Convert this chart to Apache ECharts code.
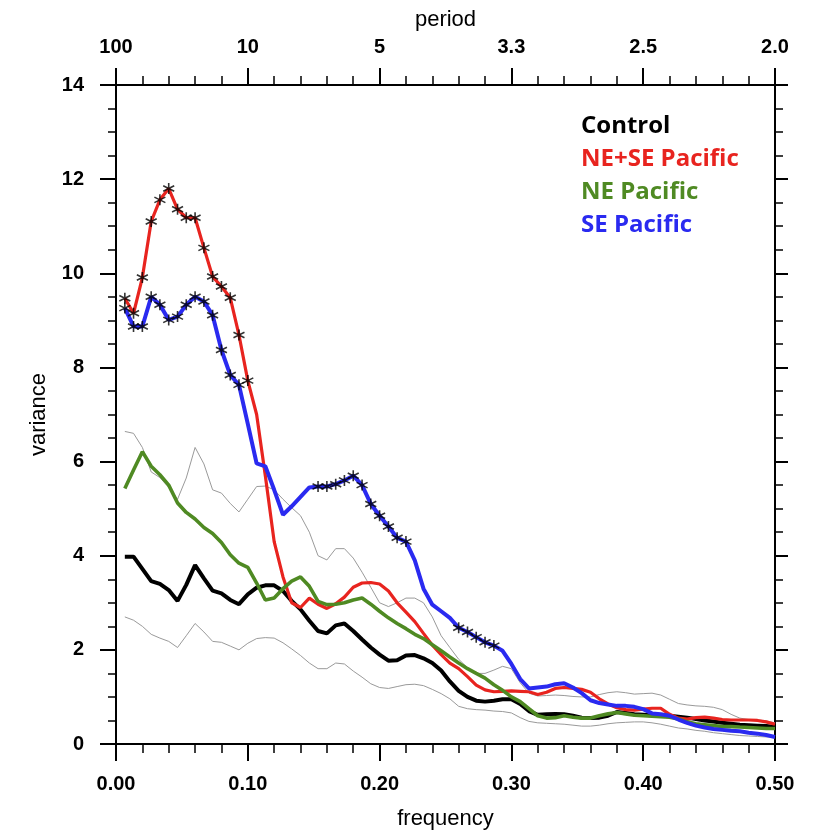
<!DOCTYPE html>
<html>
<head>
<meta charset="utf-8">
<title>variance spectra</title>
<script src="https://cdn.jsdelivr.net/npm/echarts@6/dist/echarts.min.js"></script>
<style>
html, body { margin: 0; padding: 0; background: #fff; }
#chart { width: 828px; height: 840px; }
</style>
</head>
<body>
<div id="chart"></div>
<script>
// frequency grid (cycles/yr)
const freq = [0.0067,0.0133,0.0200,0.0267,0.0333,0.0400,0.0467,0.0533,0.0600,0.0667,
  0.0733,0.0800,0.0867,0.0933,0.1000,0.1067,0.1133,0.1200,0.1267,0.1333,
  0.1400,0.1467,0.1533,0.1600,0.1667,0.1733,0.1800,0.1867,0.1933,0.2000,
  0.2067,0.2133,0.2200,0.2267,0.2333,0.2400,0.2467,0.2533,0.2600,0.2667,
  0.2733,0.2800,0.2867,0.2933,0.3000,0.3067,0.3133,0.3200,0.3267,0.3333,
  0.3400,0.3467,0.3533,0.3600,0.3667,0.3733,0.3800,0.3867,0.3933,0.4000,
  0.4067,0.4133,0.4200,0.4267,0.4333,0.4400,0.4467,0.4533,0.4600,0.4667,
  0.4733,0.4800,0.4867,0.4933,0.5000];

const control = [3.98,3.98,3.72,3.46,3.40,3.27,3.04,3.38,3.80,3.52,
  3.26,3.20,3.06,2.97,3.18,3.32,3.37,3.37,3.25,3.04,
  2.86,2.62,2.40,2.35,2.52,2.56,2.40,2.22,2.05,1.90,
  1.77,1.78,1.88,1.89,1.82,1.72,1.56,1.33,1.13,1.00,
  0.92,0.90,0.92,0.95,0.95,0.85,0.70,0.62,0.63,0.64,
  0.63,0.60,0.56,0.55,0.56,0.60,0.68,0.66,0.63,0.62,
  0.61,0.61,0.60,0.58,0.56,0.53,0.50,0.48,0.45,0.43,
  0.41,0.40,0.39,0.38,0.36];

const neSe = [9.47,9.15,9.91,11.10,11.56,11.80,11.36,11.18,11.18,10.54,
  9.93,9.72,9.48,8.69,7.72,7.00,5.70,4.30,3.55,3.00,
  2.90,3.10,2.97,2.88,2.98,3.12,3.33,3.42,3.43,3.40,
  3.25,3.00,2.80,2.60,2.35,2.10,1.90,1.72,1.60,1.43,
  1.25,1.15,1.11,1.12,1.13,1.12,1.11,1.05,1.10,1.18,
  1.20,1.18,1.16,1.10,0.96,0.85,0.77,0.73,0.72,0.74,
  0.76,0.76,0.63,0.55,0.53,0.56,0.57,0.55,0.52,0.51,
  0.51,0.51,0.50,0.47,0.42];

const ne = [5.43,5.82,6.21,5.90,5.72,5.50,5.12,4.92,4.78,4.60,
  4.47,4.28,4.02,3.84,3.75,3.42,3.06,3.10,3.30,3.46,
  3.55,3.35,3.03,2.96,2.97,3.00,3.06,3.10,2.97,2.82,
  2.68,2.56,2.45,2.33,2.24,2.11,1.98,1.85,1.72,1.60,
  1.50,1.40,1.26,1.14,1.00,0.90,0.75,0.60,0.55,0.56,
  0.60,0.57,0.55,0.55,0.60,0.64,0.67,0.64,0.61,0.60,
  0.59,0.58,0.57,0.53,0.47,0.43,0.41,0.39,0.37,0.37,
  0.36,0.35,0.34,0.33,0.33];

const se = [9.26,8.87,8.87,9.50,9.33,9.01,9.08,9.33,9.50,9.40,
  9.11,8.37,7.84,7.63,6.80,5.96,5.90,5.40,4.87,5.05,
  5.25,5.45,5.47,5.47,5.52,5.60,5.70,5.50,5.10,4.85,
  4.62,4.38,4.30,3.90,3.30,2.96,2.82,2.68,2.47,2.38,
  2.27,2.16,2.09,1.98,1.70,1.38,1.18,1.20,1.22,1.27,
  1.29,1.20,1.08,0.93,0.87,0.84,0.81,0.81,0.79,0.74,
  0.65,0.63,0.60,0.52,0.45,0.39,0.35,0.32,0.30,0.28,
  0.27,0.24,0.22,0.19,0.15];

// control confidence bounds
const ciUpper = [6.64,6.60,6.30,5.78,5.66,5.45,5.20,5.65,6.30,5.95,
  5.40,5.33,5.11,4.93,5.20,5.47,5.48,5.40,5.20,5.02,
  4.85,4.50,4.00,3.91,4.15,4.15,3.95,3.65,3.33,3.00,
  2.92,3.00,3.10,3.10,3.00,2.70,2.30,2.05,1.80,1.62,
  1.50,1.50,1.57,1.65,1.60,1.30,1.08,1.02,1.03,1.04,
  1.03,1.01,1.00,1.00,1.05,1.09,1.11,1.09,1.06,1.07,
  1.08,1.04,0.95,0.86,0.83,0.81,0.80,0.78,0.73,0.63,
  0.55,0.52,0.51,0.49,0.45];

const ciLower = [2.70,2.63,2.50,2.33,2.25,2.18,2.05,2.30,2.56,2.38,
  2.18,2.16,2.08,2.00,2.14,2.24,2.26,2.25,2.15,2.02,
  1.88,1.72,1.60,1.60,1.72,1.70,1.55,1.42,1.28,1.20,
  1.18,1.22,1.26,1.27,1.24,1.16,1.07,0.96,0.80,0.75,
  0.73,0.72,0.70,0.69,0.66,0.56,0.48,0.45,0.44,0.43,
  0.42,0.40,0.38,0.38,0.40,0.43,0.45,0.46,0.47,0.47,
  0.45,0.42,0.38,0.34,0.32,0.29,0.27,0.24,0.22,0.20,
  0.18,0.17,0.16,0.15,0.15];

// significant points, 1-based index ranges (inclusive)
const neSeStars = [[1, 15]];
const seStars = [[1, 14], [23, 33], [39, 43]];

const freqTicks = [0, 0.1, 0.2, 0.3, 0.4, 0.5];
const periodLabels = ['100', '10', '5', '3.3', '2.5', '2.0'];

const legendNames = ['Control', 'NE+SE Pacific', 'NE Pacific', 'SE Pacific'];
const legendColors = ['#000000', '#e8241f', '#4f8a23', '#2a2af0'];

const pairs = ys => freq.map((f, i) => [f, ys[i]]);
const starPts = (ys, ranges) => {
    let out = [];
    ranges.forEach(([a, b]) => {
        for (let k = a; k <= b; k++) out.push([freq[k - 1], ys[k - 1]]);
    });
    return out;
};

const axisFont = 'Liberation Sans, Arial, sans-serif';
const star = 'path://M5,0L5,10M0.67,2.5L9.33,7.5M0.67,7.5L9.33,2.5';

const lineSeries = (name, ys, color, width) => ({
    name: name,
    type: 'line',
    data: pairs(ys),
    symbol: 'none',
    lineStyle: { color: color, width: width },
    animation: false
});

const starSeries = (ys, ranges) => ({
    type: 'scatter',
    data: starPts(ys, ranges),
    symbol: star,
    symbolSize: 11,
    itemStyle: { color: '#000', borderColor: '#000', borderWidth: 1.6 },
    z: 5,
    animation: false
});

const xCommon = {
    type: 'value', min: 0, max: 0.5, interval: 0.1,
    axisLine: { onZero: false, lineStyle: { color: '#000', width: 2 } },
    axisTick: { length: 17, lineStyle: { color: '#000', width: 2 } },
    minorTick: { show: true, splitNumber: 5, length: 9, lineStyle: { color: '#000', width: 1.5 } },
    splitLine: { show: false },
    nameLocation: 'middle',
    nameTextStyle: { fontSize: 22, color: '#000', fontFamily: axisFont }
};

const yCommon = {
    type: 'value', min: 0, max: 14, interval: 2,
    axisLine: { show: true, onZero: false, lineStyle: { color: '#000', width: 2 } },
    axisTick: { show: true, length: 16, lineStyle: { color: '#000', width: 2 } },
    minorTick: { show: true, splitNumber: 4, length: 8, lineStyle: { color: '#000', width: 1.5 } },
    splitLine: { show: false }
};

const chart = echarts.init(document.getElementById('chart'));
chart.setOption({
    backgroundColor: '#fff',
    grid: { left: 116, right: 53, top: 85, bottom: 96 },
    xAxis: [
        Object.assign({}, xCommon, {
            position: 'bottom',
            name: 'frequency', nameGap: 64,
            axisLabel: { margin: 30, fontSize: 20, fontWeight: 'bold', color: '#000', fontFamily: axisFont,
                formatter: v => v.toFixed(2) }
        }),
        Object.assign({}, xCommon, {
            position: 'top',
            name: 'period', nameGap: 54,
            axisLabel: { margin: 28, fontSize: 20, fontWeight: 'bold', color: '#000', fontFamily: axisFont,
                formatter: v => periodLabels[freqTicks.indexOf(Math.round(v * 10) / 10)] }
        })
    ],
    yAxis: [
        Object.assign({}, yCommon, {
            position: 'left',
            name: 'variance', nameLocation: 'middle', nameGap: 66, nameRotate: 90,
            nameTextStyle: { fontSize: 22, color: '#000', fontFamily: axisFont },
            axisLabel: { margin: 32, fontSize: 20, fontWeight: 'bold', color: '#000', fontFamily: axisFont }
        }),
        Object.assign({}, yCommon, {
            position: 'right',
            axisTick: { show: true, length: 13, lineStyle: { color: '#000', width: 2 } },
            axisLabel: { show: false }
        })
    ],
    graphic: legendNames.map((name, i) => ({
        type: 'text',
        left: 581,
        top: 114 + i * 33,
        style: { text: name, fill: legendColors[i], font: 'bold 24px "Open Sans", Lato, sans-serif' }
    })),
    series: [
        lineSeries('upper', ciUpper, '#9a9a9a', 1),
        lineSeries('lower', ciLower, '#9a9a9a', 1),
        lineSeries('Control', control, legendColors[0], 4),
        lineSeries('NE+SE Pacific', neSe, legendColors[1], 3.2),
        lineSeries('NE Pacific', ne, legendColors[2], 3.6),
        lineSeries('SE Pacific', se, legendColors[3], 4),
        starSeries(neSe, neSeStars),
        starSeries(se, seStars)
    ]
});
</script>
</body>
</html>
